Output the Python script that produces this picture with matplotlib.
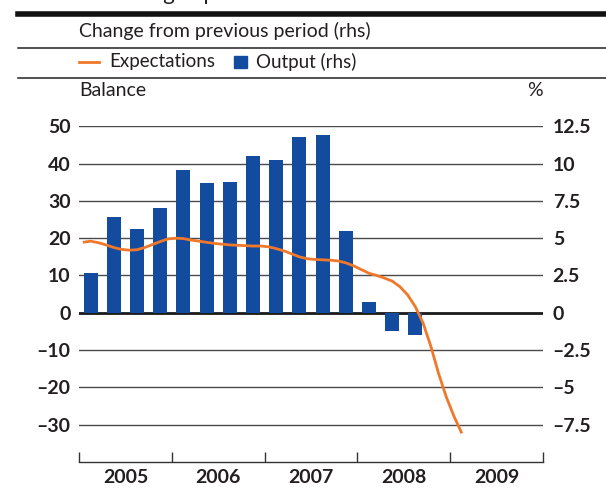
import matplotlib.pyplot as plt
from matplotlib.lines import Line2D
from matplotlib.patches import Rectangle

# quarterly output, % change from previous period (rhs), 2005Q1 - 2008Q3
quarters = ["2005Q1", "2005Q2", "2005Q3", "2005Q4", "2006Q1", "2006Q2", "2006Q3", "2006Q4",
            "2007Q1", "2007Q2", "2007Q3", "2007Q4", "2008Q1", "2008Q2", "2008Q3"]
output = [2.7, 6.4, 5.6, 7.0, 9.6, 8.7, 8.75, 10.5,
          10.25, 11.8, 11.9, 5.45, 0.75, -1.25, -1.5]

# monthly expectations balance, Jan 2005 - Feb 2009
expectations = [18.9, 19.2, 18.8, 18.2, 17.5, 17.0, 16.8, 16.9, 17.5, 18.3, 19.1, 19.8,
                20.0, 19.9, 19.5, 19.2, 18.9, 18.6, 18.4, 18.2, 18.1, 18.0, 17.9, 17.9,
                17.7, 17.2, 16.6, 15.8, 15.0, 14.5, 14.3, 14.2, 14.1, 13.9, 13.4, 12.6,
                11.6, 10.6, 10.0, 9.3, 8.5, 7.0, 4.8, 1.6, -2.8, -9.0, -16.3, -22.6, -27.8, -32.3]

years = ["2005", "2006", "2007", "2008", "2009"]
left_ticks = [50, 40, 30, 20, 10, 0, -10, -20, -30]
right_ticks = [12.5, 10, 7.5, 5, 2.5, 0, -2.5, -5, -7.5]

blue = "#134b9f"
orange = "#f0782a"
ink = "#231f20"

W, H = 606, 488
fig = plt.figure(figsize=(W / 100, H / 100), dpi=100)


def fx(px):
    return px / W


def fy(py):
    return 1 - py / H


ax2 = fig.add_axes([fx(79), fy(462), fx(543) - fx(79), fy(126.3) - fy(462)])
ax = ax2.twinx()
ax.set_zorder(ax2.get_zorder() + 1)
ax.patch.set_visible(False)

# bars (rhs)
qx = [2005 + (i + 0.5) / 4 for i in range(len(output))]
ax2.bar(qx, output, width=0.15, color=blue, zorder=3)

# grid
for v in right_ticks:
    if v == 0:
        ax2.axhline(v, color="#1a1a1a", lw=2.0, zorder=2)
    else:
        ax2.axhline(v, color="#4a4a4a", lw=1.0, zorder=1)

# expectations line (lhs)
mx = [2005 + (i + 0.5) / 12 for i in range(len(expectations))]
ax.plot(mx, expectations, color=orange, lw=2.0, solid_capstyle="butt")

ax2.set_xlim(2005, 2010)
ax2.set_ylim(-10, 12.5)
ax.set_ylim(-40, 50)

# swap sides: lhs balance on the left, rhs % on the right
ax2.yaxis.tick_right()
ax.yaxis.tick_left()
ax2.set_yticks(right_ticks)
ax2.set_yticklabels([("%g" % v).replace("-", "\u2013") for v in right_ticks])
ax.set_yticks(left_ticks)
ax.set_yticklabels([("%g" % v).replace("-", "\u2013") for v in left_ticks])

tick_font = dict(family="Lato", weight="bold", size=14)
for lab in ax.get_yticklabels() + ax2.get_yticklabels():
    lab.set_fontfamily("Lato")
    lab.set_fontweight("bold")
    lab.set_fontsize(14)
    lab.set_color(ink)
ax.tick_params(axis="y", length=0, pad=6)
ax2.tick_params(axis="y", length=0, pad=7)

# x axis: year boundary ticks, labels in the middle
ax2.set_xticks([2005, 2006, 2007, 2008, 2009, 2010])
ax2.set_xticklabels([])
ax2.tick_params(axis="x", direction="in", length=7, width=1, color="#333333")
ax2.set_xticks([y + 0.5 for y in range(2005, 2010)], minor=True)
ax2.set_xticklabels(years, minor=True, **tick_font, color=ink)
ax2.tick_params(axis="x", which="minor", length=0, pad=5)
ax.tick_params(axis="x", length=0)

for a in (ax, ax2):
    for s in ("top", "left", "right", "bottom"):
        a.spines[s].set_visible(False)
ax2.spines["bottom"].set_visible(True)
ax2.spines["bottom"].set_color("#333333")
ax2.spines["bottom"].set_linewidth(1.0)

# header block (title is cut off at the top edge in the original)
fig.text(fx(104), fy(0), "Sinking expectations", fontsize=16, fontfamily="Lato",
         color=ink, va="baseline")
fig.add_artist(Line2D([fx(18), 1], [fy(13.5), fy(13.5)], color="#111111", lw=4.0))
fig.text(fx(79), fy(31), "Change from previous period (rhs)", fontsize=14,
         fontfamily="Lato", color=ink, va="center")
fig.add_artist(Line2D([fx(18), 1], [fy(48), fy(48)], color="#222222", lw=1.1))
fig.add_artist(Line2D([fx(79), fx(99)], [fy(62), fy(62)], color=orange, lw=2.0))
fig.text(fx(109), fy(62), "Expectations", fontsize=13.5, fontfamily="Lato",
         color=ink, va="center")
fig.add_artist(Rectangle((fx(234), fy(68)), fx(13), fy(56) - fy(68),
                         transform=fig.transFigure, color=blue))
fig.text(fx(256), fy(62), "Output (rhs)", fontsize=13.5, fontfamily="Lato",
         color=ink, va="center")
fig.add_artist(Line2D([fx(18), 1], [fy(78), fy(78)], color="#222222", lw=1.1))
fig.text(fx(79), fy(91), "Balance", fontsize=14, fontfamily="Lato",
         color=ink, va="center")
fig.text(fx(543), fy(91), "%", fontsize=14, fontfamily="Lato",
         color=ink, va="center", ha="right")

fig.savefig("out.png", dpi=100)
